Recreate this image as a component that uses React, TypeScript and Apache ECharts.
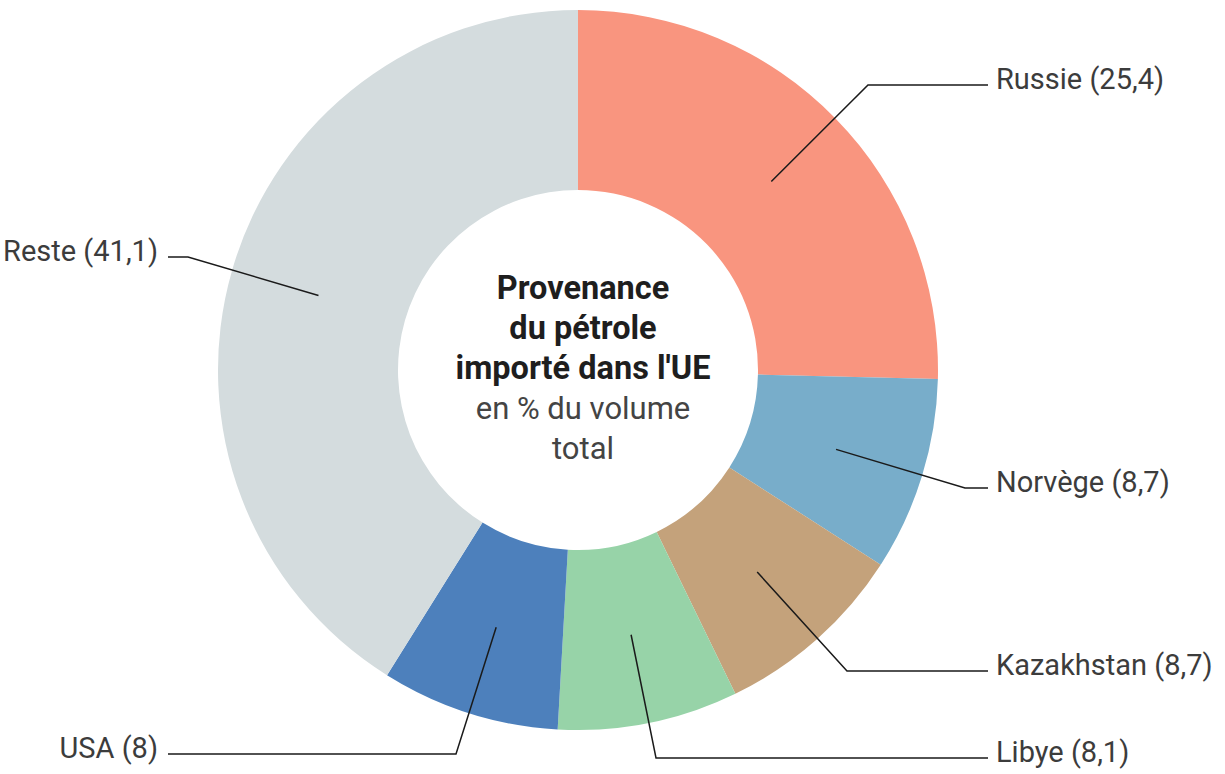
import React, { useEffect, useRef } from "react";
import * as echarts from "echarts";

const categories = ["Russie", "Norvège", "Kazakhstan", "Libye", "USA", "Reste"];
const values = [25.4, 8.7, 8.7, 8.1, 8, 41.1];
const valueLabels = ["25,4", "8,7", "8,7", "8,1", "8", "41,1"];
const colors = ["#F9957F", "#78ADCA", "#C4A27B", "#97D3A8", "#4D80BC", "#D4DCDE"];

const titleBold = ["Provenance", "du pétrole", "importé dans l'UE"];
const titleRegular = ["en % du volume", "total"];

// leader-line elbows / ends (layout only)
const labelAnchors = [
  { elbow: [868, 85], end: [988, 85], side: "right" },
  { elbow: [965, 488], end: [988, 488], side: "right" },
  { elbow: [847, 671], end: [988, 671], side: "right" },
  { elbow: [656, 758], end: [988, 758], side: "right" },
  { elbow: [456, 754], end: [168, 754], side: "left" },
  { elbow: [188, 257], end: [168, 257], side: "left" },
];

const CX = 578;
const CY = 370;
const R_IN = 180;
const R_OUT = 360;
const FONT = "Roboto, 'Noto Sans', sans-serif";

export default function App() {
  const ref = useRef<HTMLDivElement>(null);
  useEffect(() => {
    document.body.style.margin = "0";
    const chart = echarts.init(ref.current!, undefined, { renderer: "svg" });
    const total = values.reduce((a, b) => a + b, 0);
    const mids: number[] = [];
    let acc = 0;
    values.forEach((v) => {
      mids.push(((acc + v / 2) / total) * Math.PI * 2);
      acc += v;
    });
    const rMid = (R_IN + R_OUT) / 2;
    const titleText =
      titleBold.map((t) => `{b|${t}}`).join("\n") +
      "\n" +
      titleRegular.map((t) => `{r|${t}}`).join("\n");
    const pieData = categories.map((c, i) => ({
      name: c,
      value: values[i],
      itemStyle: { color: colors[i] },
    }));
    chart.setOption({
      animation: false,
      backgroundColor: "#ffffff",
      title: {
        text: titleText,
        left: CX,
        top: 263,
        textAlign: "center",
        textStyle: {
          rich: {
            b: { fontFamily: FONT, fontSize: 32.5, fontWeight: "bold", color: "#1e1e1e", lineHeight: 40, align: "center" },
            r: { fontFamily: FONT, fontSize: 31, fontWeight: "normal", color: "#444444", lineHeight: 40, align: "center" },
          },
        },
      },
      series: [
        {
          type: "pie",
          z: 2,
          center: [CX, CY],
          radius: [R_IN, R_OUT],
          startAngle: 90,
          clockwise: true,
          silent: true,
          data: pieData,
          label: { show: false },
          labelLine: { show: false },
        },
        {
          type: "pie",
          z: 5,
          center: [CX, CY],
          radius: [R_IN, R_OUT],
          startAngle: 90,
          clockwise: true,
          silent: true,
          avoidLabelOverlap: false,
          data: categories.map((c, i) => ({
            name: c,
            value: values[i],
            itemStyle: { color: "rgba(0,0,0,0)" },
          })),
          label: {
            show: true,
            position: "outside",
            formatter: (p: any) => `${categories[p.dataIndex]} (${valueLabels[p.dataIndex]})`,
            fontFamily: FONT,
            fontSize: 29,
            color: "#3c3c3c",
          },
          labelLine: {
            show: true,
            lineStyle: { color: "#1a1a1a", width: 1.5 },
          },
          labelLayout: (params: any) => {
            const i = params.dataIndex;
            const a = labelAnchors[i];
            const ang = mids[i];
            const start = [CX + rMid * Math.sin(ang), CY - rMid * Math.cos(ang)];
            const right = a.side === "right";
            return {
              x: right ? a.end[0] + 8 : a.end[0] - 10,
              y: a.end[1] - 6,
              align: right ? "left" : "right",
              verticalAlign: "middle",
              labelLinePoints: [start, a.elbow, a.end],
            };
          },
        },
      ],
    });
    return () => chart.dispose();
  }, []);
  return (
    <div
      ref={ref}
      style={{ position: "fixed", left: 0, top: 0, width: 1225, height: 774 }}
    />
  );
}
